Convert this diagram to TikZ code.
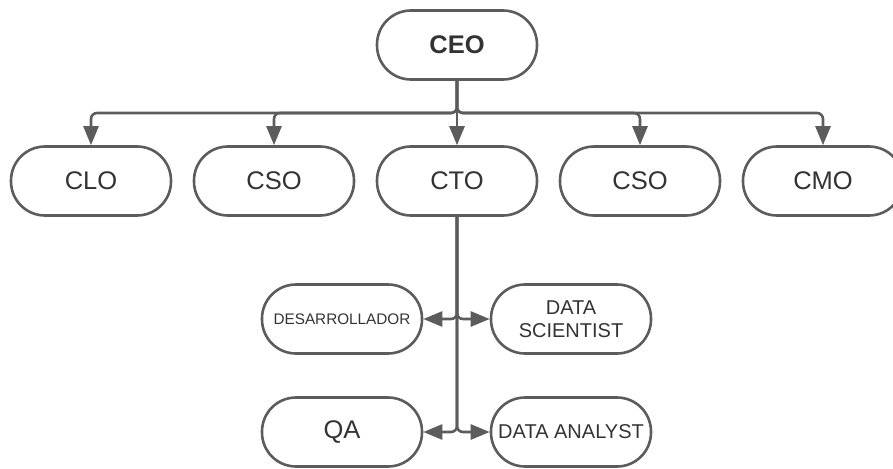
\documentclass[tikz,border=0pt]{standalone}
\usepackage{fontspec}
\setmainfont{Liberation Sans}
\usetikzlibrary{arrows.meta}
\definecolor{linegray}{HTML}{5C5C5C}
\definecolor{textgray}{HTML}{333333}
\tikzset{
	pill/.style={draw=linegray, line width=2.6pt, rounded corners=34pt,
		minimum width=160pt, minimum height=69pt, inner sep=0pt,
		align=center, text=textgray, font=\fontsize{25.5}{28}\selectfont},
	link/.style={draw=linegray, line width=2.6pt, rounded corners=6pt,
		-{Triangle[length=19pt,width=15pt]}}
}

\begin{document}
\begin{tikzpicture}[x=1pt, y=-1pt]

	\clip (0,0) rectangle (893,468);

	% top
	\node[pill, font=\fontsize{25.5}{28}\selectfont\bfseries] (ceo) at (457,45) {CEO};

	% second row
	\node[pill] (clo) at (91,181) {CLO};
	\node[pill] (csoa) at (274,181) {CSO};
	\node[pill] (cto) at (457,181) {CTO};
	\node[pill] (csob) at (640,181) {CSO};
	\node[pill] (cmo) at (823,181) {CMO};

	% under the CTO
	\node[pill, font=\fontsize{15.3}{18}\selectfont] (dev) at (342,319) {DESARROLLADOR};
	\node[pill, font=\fontsize{20}{23}\selectfont] (ds) at (571,319) {DATA\\SCIENTIST};
	\node[pill] (qa) at (342,432) {QA};
	\node[pill, font=\fontsize{20}{23}\selectfont] (da) at (571,432) {DATA ANALYST};

	\coordinate (bus) at (457,113);

	\draw[link] (ceo.south) -- (bus) -| (clo.north);
	\draw[link] (ceo.south) -- (bus) -| (csoa.north);
	\draw[link] (ceo.south) -- (cto.north);
	\draw[link] (ceo.south) -- (bus) -| (csob.north);
	\draw[link] (ceo.south) -- (bus) -| (cmo.north);

	\draw[link] (cto.south) |- (dev.east);
	\draw[link] (cto.south) |- (ds.west);
	\draw[link] (cto.south) |- (qa.east);
	\draw[link] (cto.south) |- (da.west);

\end{tikzpicture}
\end{document}
